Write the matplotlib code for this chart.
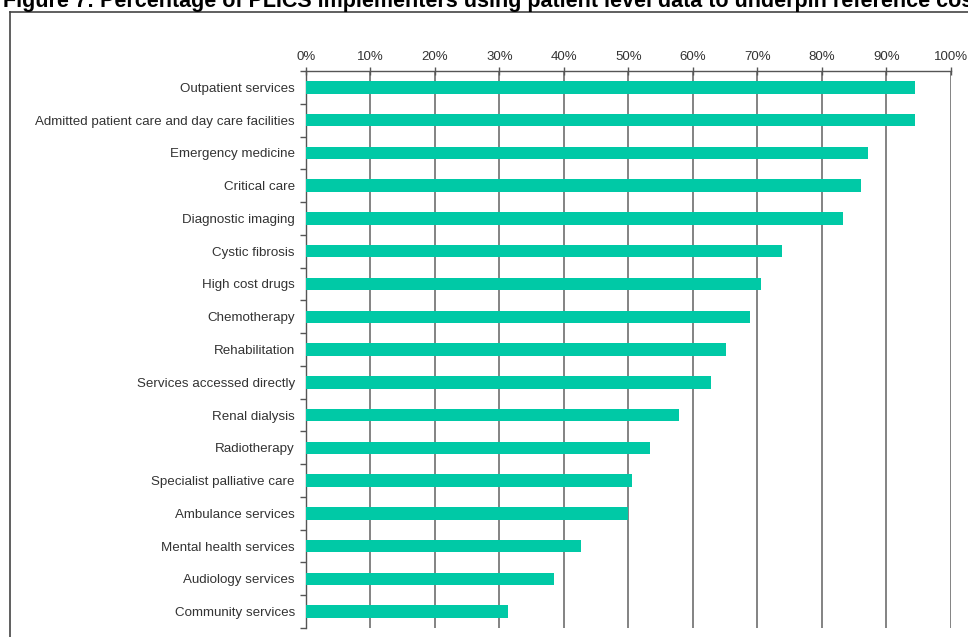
import matplotlib.pyplot as plt
from matplotlib.lines import Line2D
from matplotlib.ticker import FuncFormatter, MultipleLocator
import numpy as np

plt.rcParams['font.family'] = ['Liberation Sans', 'DejaVu Sans']

categories = [
    'Outpatient services',
    'Admitted patient care and day care facilities',
    'Emergency medicine',
    'Critical care',
    'Diagnostic imaging',
    'Cystic fibrosis',
    'High cost drugs',
    'Chemotherapy',
    'Rehabilitation',
    'Services accessed directly',
    'Renal dialysis',
    'Radiotherapy',
    'Specialist palliative care',
    'Ambulance services',
    'Mental health services',
    'Audiology services',
    'Community services',
]
values = [94.4, 94.4, 87.2, 86.0, 83.3, 73.8, 70.6, 68.8, 65.1, 62.8,
          57.9, 53.4, 50.5, 49.9, 42.7, 38.5, 31.4]

title = ('Figure 7: Percentage of PLICS implementers using patient level data '
         'to underpin reference costs')

fig = plt.figure(figsize=(9.68, 6.37), dpi=100)
ax = fig.add_axes([0.316, 0.0141, 0.9824 - 0.316, 0.8885 - 0.0141])

y = np.arange(len(categories))
ax.barh(y, values, height=0.38, color='#00C9A6', zorder=3)

ax.set_xlim(0, 100)
ax.set_ylim(len(categories) - 0.5, -0.5)

# percent ticks on top
ax.xaxis.set_major_locator(MultipleLocator(10))
ax.xaxis.set_major_formatter(FuncFormatter(lambda v, p: '%d%%' % v))
ax.xaxis.tick_top()
ax.tick_params(axis='x', which='major', direction='inout', length=6,
               width=1, color='#555555', labelsize=9.5, labelcolor='#333333', pad=3)
ax.grid(axis='x', color='#7a7a7a', linewidth=1.3, zorder=0)

# category labels, ticks between categories
ax.set_yticks(y)
ax.set_yticklabels(categories, fontsize=9.6, color='#333333')
ax.set_yticks(np.arange(-0.5, len(categories), 1), minor=True)
ax.tick_params(axis='y', which='major', length=0, pad=8)
ax.tick_params(axis='y', which='minor', direction='out', length=4,
               width=1, color='#555555')

for s in ['right', 'bottom']:
    ax.spines[s].set_visible(False)
for s in ['top', 'left']:
    ax.spines[s].set_color('#555555')
    ax.spines[s].set_linewidth(1)

# frame around the chart area (clipped at the right/bottom)
fig.add_artist(Line2D([10 / 968, 10 / 968], [0, 1 - 12 / 637],
                      transform=fig.transFigure, color='#444444', linewidth=1.2))
fig.add_artist(Line2D([10 / 968, 1], [1 - 12 / 637, 1 - 12 / 637],
                      transform=fig.transFigure, color='#444444', linewidth=1.2))

fig.text(3 / 968, 1 - 1 / 637, title, fontsize=15.5, fontweight='bold',
         color='black', ha='left', va='center')

fig.savefig('out.png', dpi=100)
